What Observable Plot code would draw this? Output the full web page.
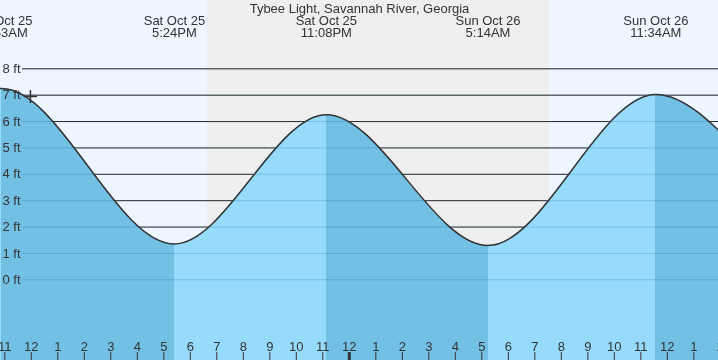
<!DOCTYPE html>
<html><head><meta charset="utf-8">
<script src="https://cdn.jsdelivr.net/npm/d3@7"></script>
<script src="https://cdn.jsdelivr.net/npm/@observablehq/plot@0.6"></script>
<style>
html,body{margin:0;padding:0;background:#fff;overflow:hidden;}
#chart svg{display:block;}
</style></head><body><div id="chart"></div>
<script>
// ---- data (local EDT wall-clock, stored as UTC) ----
const title = "Tybee Light, Savannah River, Georgia";
const tideTimes   = ["2025-10-25T04:40", "2025-10-25T10:53", "2025-10-25T17:24", "2025-10-25T23:08", "2025-10-26T05:14", "2025-10-26T11:34", "2025-10-26T18:00", "2025-10-27T00:10"];
const tideHeights = [0.9, 7.25, 1.36, 6.26, 1.3, 7.03, 2.6, 6.2];
const labelledEvents = [1, 2, 3, 4, 5];           // indices of extremes with top labels
const nightStart = "2025-10-25T18:39";
const nightEnd   = "2025-10-26T07:33";
const xDomain = ["2025-10-25T10:50:16", "2025-10-26T13:55:50"];
const yDomain = [-3.06, 10.59];
const yTicks = [0, 1, 2, 3, 4, 5, 6, 7, 8];
const markerTime = "2025-10-25T11:58";
const markerHeight = 6.95;

// ---- styles ----
const dayBg = "#eef7ff", nightBg = "#efefef";
const waterRising = "#97dbfc", waterFalling = "#73c0e5";
const ink = "#333";

const D = s => new Date(s + "Z");
const tides = tideTimes.map((t, i) => ({date: D(t), height: tideHeights[i]}));
const events = labelledEvents.map(i => tides[i]);
const x0 = D(xDomain[0]), x1 = D(xDomain[1]);
const hours = d3.utcHour.range(d3.utcHour.ceil(x0), d3.utcHour.offset(x1, 1));
const midnights = hours.filter(d => d.getUTCHours() === 0);
const hourFmt = d3.utcFormat("%-I");
const dayFmt = d3.utcFormat("%a %b %-d");
const timeFmt = d3.utcFormat("%-I:%M%p");

const plot = Plot.plot({
  width: 718, height: 360, margin: 0,
  x: {type: "utc", domain: [x0, x1]},
  y: {domain: yDomain},
  style: {fontFamily: "'Liberation Sans', Arial, sans-serif", fontSize: "13px", color: ink, background: dayBg},
  marks: [
    Plot.frame({fill: dayBg, stroke: "none"}),
    Plot.rect([{start: D(nightStart), end: D(nightEnd)}], {x1: "start", x2: "end", fill: nightBg}),
    Plot.ruleY(yTicks, {y: d => d, stroke: ink, strokeWidth: 1, insetLeft: 22}),
    Plot.areaY(tides, {x: "date", y1: yDomain[0], y2: "height", curve: "monotone-x", fill: "url(#waterGrad)", clip: true}),
    Plot.ruleY(yTicks, {y: d => d, stroke: "#c3e0ea", strokeWidth: 1, insetLeft: 22, mixBlendMode: "multiply"}),
    Plot.lineY(tides, {x: "date", y: "height", curve: "monotone-x", stroke: ink, strokeWidth: 1.5, clip: true}),
    Plot.dot([{date: D(markerTime), height: markerHeight}], {x: "date", y: "height", symbol: "plus", r: 4.3, stroke: ink, strokeWidth: 1.5}),
    Plot.text(yTicks, {y: d => d, text: d => `${d} ft`, frameAnchor: "left", textAnchor: "start", dx: 2, fill: ink}),
    Plot.ruleX(hours, {x: d => d, stroke: ink, strokeWidth: 1, insetTop: 352}),
    Plot.ruleX(midnights, {x: d => d, stroke: ink, strokeWidth: 3, insetTop: 352}),
    Plot.text(hours, {x: d => d, text: d => hourFmt(d), frameAnchor: "bottom", lineAnchor: "bottom", dy: -10, fill: ink}),
    Plot.text([title], {text: d => d, frameAnchor: "top", lineAnchor: "top", dy: 3, fill: ink}),
    Plot.text(events, {x: "date", text: d => dayFmt(d.date), frameAnchor: "top", lineAnchor: "top", dy: 15, fill: ink}),
    Plot.text(events, {x: "date", text: d => timeFmt(d.date), frameAnchor: "top", lineAnchor: "top", dy: 27, fill: ink})
  ]
});

// water gradient: lighter while rising, darker while falling, split at the extremes
const xs = plot.scale("x");
const W = 718;
const svg = d3.select(plot.tagName.toLowerCase() === "svg" ? plot : plot.querySelector("svg"));
const grad = svg.insert("defs", ":first-child").append("linearGradient")
  .attr("id", "waterGrad").attr("gradientUnits", "userSpaceOnUse")
  .attr("x1", 0).attr("x2", W).attr("y1", 0).attr("y2", 0);
const clamp = v => Math.max(0, Math.min(1, v));
for (let i = 0; i < tides.length - 1; i++) {
  const c = tides[i + 1].height < tides[i].height ? waterFalling : waterRising;
  const a = clamp(xs.apply(tides[i].date) / W), b = clamp(xs.apply(tides[i + 1].date) / W);
  grad.append("stop").attr("offset", a).attr("stop-color", c);
  grad.append("stop").attr("offset", b).attr("stop-color", c);
}
document.getElementById("chart").append(plot);
</script>
</body></html>
